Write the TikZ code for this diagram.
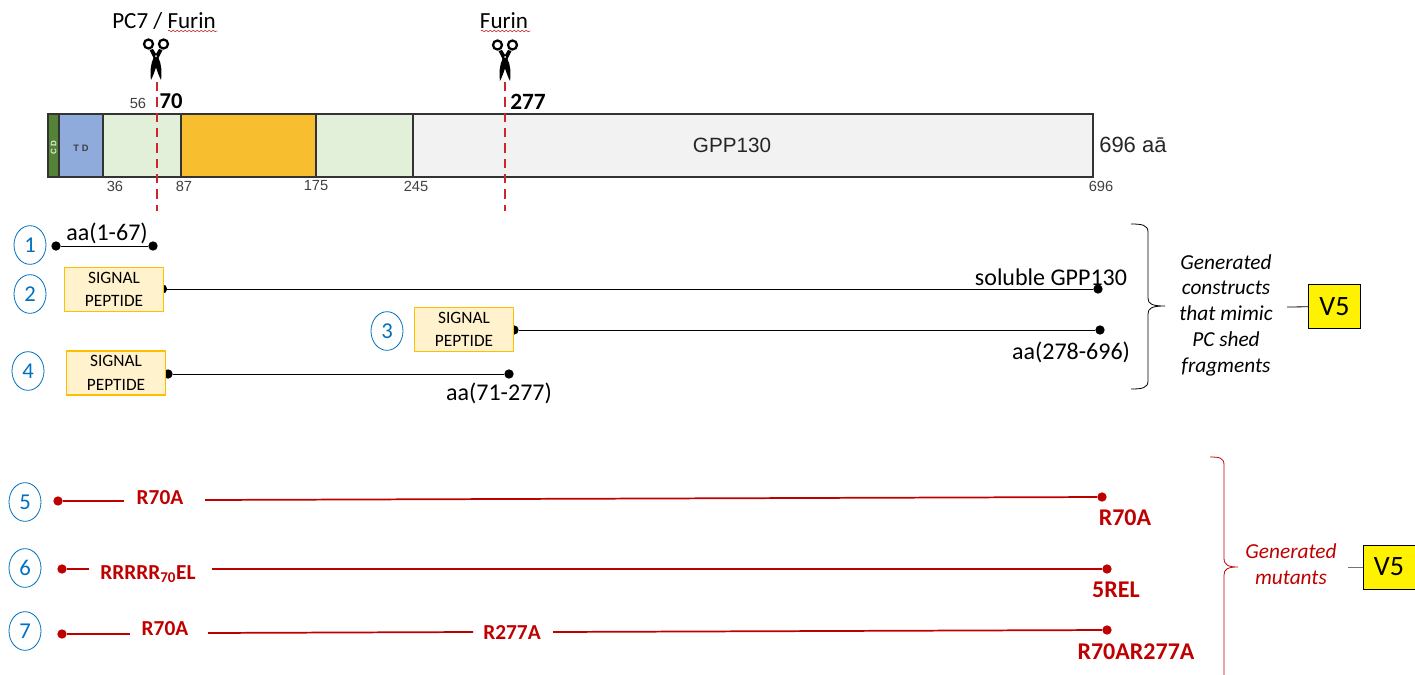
\documentclass[tikz,border=0pt]{standalone}
\usepackage{fontspec}
\setmainfont{Carlito}
\newfontfamily\helv{Liberation Sans}
\usetikzlibrary{calc,shapes.geometric,decorations.pathmorphing}
\definecolor{CdClr}{rgb}{0.33,0.51,0.21}
\definecolor{TdClr}{rgb}{0.56,0.67,0.86}
\definecolor{PaleClr}{rgb}{0.89,0.94,0.85}
\definecolor{OrangeClr}{rgb}{0.97,0.75,0.19}
\definecolor{GreyClr}{rgb}{0.95,0.95,0.95}
\definecolor{CutClr}{rgb}{0.80,0.15,0.18}
\definecolor{NumClr}{rgb}{0,0.44,0.75}
\definecolor{MutClr}{rgb}{0.75,0,0}
\definecolor{SigClr}{rgb}{1,0.95,0.80}
\definecolor{SigLine}{rgb}{1,0.75,0}
\tikzset{
  seg/.style={draw=black!80,line width=1pt},
  cut/.style={color=CutClr,line width=1pt,dash pattern=on 7pt off 4.5pt},
  wavy/.style={color=red!70!black,line width=.35pt,decorate,decoration={snake,amplitude=.6pt,segment length=3pt}},
  txt/.style={font=\fontsize{18}{22}\selectfont,inner sep=0pt},
  tick/.style={font=\helv\fontsize{11}{13}\selectfont,text=black!75,inner sep=0pt},
  num/.style={draw=NumClr,text=NumClr,ellipse,line width=.6pt,minimum width=24pt,minimum height=29pt,inner sep=0pt,font=\fontsize{17}{20}\selectfont},
  signal/.style={draw=SigLine,fill=SigClr,line width=1.2pt,minimum width=74pt,minimum height=33pt,inner sep=0pt,align=center,font=\fontsize{13}{17.5}\selectfont},
  dotk/.style={circle,fill=black,minimum size=7pt,inner sep=0pt},
  dotr/.style={circle,fill=MutClr,minimum size=7pt,inner sep=0pt},
  ln/.style={color=black,line width=.75pt},
  lnr/.style={color=MutClr,line width=1.3pt},
  mut/.style={text=MutClr,font=\bfseries\fontsize{16}{19}\selectfont,inner sep=0pt},
  mutb/.style={text=MutClr,font=\bfseries\fontsize{18}{22}\selectfont,inner sep=0pt},
  tagbox/.style={draw=black,fill=yellow,line width=.6pt,inner sep=0pt,font=\fontsize{21}{25}\selectfont},
  note/.style={font=\itshape\fontsize{16}{19.3}\selectfont,align=center,inner sep=0pt}
}

\begin{document}
\begin{tikzpicture}[x=.75pt,y=-.75pt]
\useasboundingbox (0,0) rectangle (1415,675);

\pgfmathsetmacro{\barTop}{114}
\pgfmathsetmacro{\barBot}{177}

% protein bar
\filldraw[seg,fill=GreyClr] (413,\barTop) rectangle (1093,\barBot);
\filldraw[seg,fill=PaleClr] (316,\barTop) rectangle (413,\barBot);
\filldraw[seg,fill=OrangeClr] (181,\barTop) rectangle (316,\barBot);
\filldraw[seg,fill=PaleClr] (103,\barTop) rectangle (181,\barBot);
\filldraw[seg,fill=TdClr] (59,\barTop) rectangle (103,\barBot);
\filldraw[seg,fill=CdClr] (48,\barTop) rectangle (59,\barBot);

\node[rotate=90,text=white!85!CdClr,inner sep=0pt,font=\helv\bfseries\fontsize{6}{7}\selectfont] (cd) at (53.5,148) {C D};
\node[text=black!75,inner sep=0pt,font=\helv\bfseries\fontsize{7}{8}\selectfont] (td) at (81,148) {T D};
\node[inner sep=0pt,text=black!85,font=\helv\fontsize{15.5}{18}\selectfont] (gpp) at (732,145) {GPP130};
\node[anchor=west,inner sep=0pt,text=black!85,font=\helv\fontsize{16.5}{20}\selectfont] (len) at (1099,145) {696 aā};

\node[tick] (n56) at (138,103) {56};
\node[tick] (n36) at (115,186) {36};
\node[tick] (n87) at (184,186) {87};
\node[tick] (n175) at (316,186) {175};
\node[tick] (n245) at (416,186) {245};
\node[tick] (n696) at (1101,186) {696};
\node[inner sep=0pt,font=\bfseries\fontsize{17}{20}\selectfont] (n70) at (171,101) {70};
\node[inner sep=0pt,font=\bfseries\fontsize{17.5}{20}\selectfont] (n277) at (528,102) {277};

% cleavage sites
\coordinate (cutA) at (157,82);
\coordinate (cutAb) at (157,211);
\coordinate (cutB) at (505,82);
\coordinate (cutBb) at (505,211);
\draw[cut] (cutA) -- (cutAb);
\draw[cut] (cutB) -- (cutBb);

\node[txt,font=\fontsize{17.3}{22}\selectfont] (pc) at (164,21) {PC7 / Furin};
\node[txt,font=\fontsize{17.3}{22}\selectfont] (fu) at (504,21) {Furin};
\draw[wavy] (168,31) -- (218,31);
\draw[wavy] (481,31) -- (531,31);

\foreach \cx/\cy in {156/44,505/45}{
  \draw[line width=1.7pt] (\cx-7.5,\cy) circle (4.5);
  \draw[line width=1.7pt] (\cx+7.5,\cy) circle (4.5);
  \fill (\cx+3,\cy+5) -- (\cx+6.5,\cy+6) -- (\cx+2.5,\cy+14)
     .. controls (\cx+1,\cy+20) and (\cx-1,\cy+28) .. (\cx-5,\cy+36)
     .. controls (\cx-6,\cy+28) and (\cx-5.5,\cy+20) .. (\cx-2.5,\cy+14) -- cycle;
  \fill (\cx-3,\cy+5) -- (\cx-6.5,\cy+6) -- (\cx-2.5,\cy+14)
     .. controls (\cx-1,\cy+20) and (\cx+1,\cy+28) .. (\cx+5,\cy+36)
     .. controls (\cx+6,\cy+28) and (\cx+5.5,\cy+20) .. (\cx+2.5,\cy+14) -- cycle;
  \fill[white] (\cx,\cy+12) circle (1);
}

% constructs
\node[num] (c1) at (30,245) {1};
\node[num] (c2) at (30,294) {2};
\node[num] (c3) at (387,331) {3};
\node[num] (c4) at (28,371) {4};

\node[dotk] (aL) at (56,246) {};
\node[dotk] (aR) at (153,246) {};
\node[dotk] (bL) at (162.5,289) {};
\node[dotk] (bR) at (1098,289) {};
\node[dotk] (dL) at (514,330) {};
\node[dotk] (dR) at (1100,330) {};
\node[dotk] (eL) at (168,374) {};
\node[dotk] (eR) at (509,374) {};
\draw[ln] (aL) -- (aR);
\draw[ln] (bL) -- (bR);
\draw[ln] (dL) -- (dR);
\draw[ln] (eL) -- (eR);

\node[signal] (sigA) at (114,289.5) {SIGNAL\\PEPTIDE};
\node[signal] (sigB) at (464,329.5) {SIGNAL\\PEPTIDE};
\node[signal] (sigC) at (116,373) {SIGNAL\\PEPTIDE};

\node[txt] (lA) at (107,233) {aa(1-67)};
\node[txt] (lB) at (1051,277) {soluble GPP130};
\node[txt] (lD) at (1071,352) {aa(278-696)};
\node[txt] (lE) at (499,393) {aa(71-277)};

\draw[line width=.6pt] (1131,224) .. controls (1142,224) and (1148,225) .. (1148,232) -- (1148,298)
   .. controls (1148,304) and (1152,306) .. (1165,306) .. controls (1152,306) and (1148,308) .. (1148,314)
   -- (1148,381) .. controls (1148,388) and (1142,389) .. (1131,389);
\node[note] (gen) at (1226,315) {Generated\\constructs\\that mimic\\PC shed\\fragments};
\node[tagbox,minimum width=39.5pt,minimum height=33pt] (tagA) at (1334.5,306.5) {V5};
\coordinate (tagAl) at (1287,307);
\draw[line width=.6pt] (tagAl) -- (tagA);

% mutants
\node[num] (c5) at (25,502) {5};
\node[num] (c6) at (25,568) {6};
\node[num] (c7) at (25,631) {7};

\node[dotr] (fL) at (58,501) {};
\node[dotr] (fR) at (1102,497) {};
\node[dotr] (gL) at (62,569) {};
\node[dotr] (gR) at (1107,569) {};
\node[dotr] (hL) at (62,634) {};
\node[dotr] (hR) at (1107,630) {};

\coordinate (fA) at (124,501);
\coordinate (fB) at (205,500);
\coordinate (gA) at (89,569);
\coordinate (gB) at (212,569);
\coordinate (hA) at (130,634);
\coordinate (hB) at (208,633);
\coordinate (hC) at (473,632);
\coordinate (hD) at (553,632);
\draw[lnr] (fL) -- (fA);
\draw[lnr] (fB) -- (fR);
\draw[lnr] (gL) -- (gA);
\draw[lnr] (gB) -- (gR);
\draw[lnr] (hL) -- (hA);
\draw[lnr] (hB) -- (hC);
\draw[lnr] (hD) -- (hR);

\node[mut] (mA) at (160,498) {R70A};
\node[mut] (mB) at (148,574) {RRRRR\textsubscript{70}EL};
\node[mut] (mC) at (165,629) {R70A};
\node[mut] (mD) at (512,632) {R277A};
\node[mutb] (rA) at (1125,518) {R70A};
\node[mutb] (rB) at (1116,590) {5REL};
\node[mutb] (rC) at (1136,652) {R70AR277A};

\draw[MutClr,line width=.6pt] (1210,457) .. controls (1220,457) and (1224,458) .. (1224,465) -- (1224,558)
   .. controls (1224,565) and (1228,567) .. (1238,567) .. controls (1228,567) and (1224,569) .. (1224,575)
   -- (1224,675);
\node[note,text=MutClr] (genB) at (1291,564) {Generated\\mutants};
\node[tagbox,minimum width=39pt,minimum height=33pt] (tagB) at (1389,567) {V5};
\coordinate (tagBl) at (1348,567);
\draw[line width=.6pt,color=black!55] (tagBl) -- (tagB);
\end{tikzpicture}
\end{document}
